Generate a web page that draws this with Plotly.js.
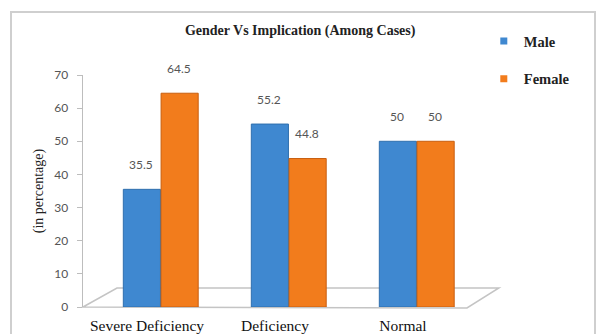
<!DOCTYPE html>
<html>
<head>
<meta charset="utf-8">
<script src="https://cdn.plot.ly/plotly-3.0.1.min.js"></script>
<style>
  html, body { margin: 0; padding: 0; background: #ffffff; }
  #wrap { position: relative; width: 604px; height: 334px; overflow: hidden; }
  #frame { position: absolute; left: 10px; top: 11px; width: 586px; height: 340px; border: 2px solid #cfcfcf; box-sizing: border-box; }
  #chart { position: absolute; left: 0; top: 0; width: 604px; height: 334px; }
</style>
</head>
<body>
<div id="wrap">
  <div id="frame"></div>
  <div id="chart"></div>
</div>
<script>
const categories = ["Severe Deficiency", "Deficiency", "Normal"];
const maleValues = [35.5, 55.2, 50];
const femaleValues = [64.5, 44.8, 50];
const maleLabels = ["35.5", "55.2", "50"];
const femaleLabels = ["64.5", "44.8", "50"];
const yTicks = [0, 10, 20, 30, 40, 50, 60, 70];

const serif = "Liberation Serif, Times New Roman, serif";
const sans = "Lato, Liberation Sans, sans-serif";
const maleColor = "#3f88d0";
const femaleColor = "#f27c1c";

const male = {
  type: "bar", name: "Male", x: categories, y: maleValues,
  offset: -0.185, width: 0.29,
  marker: { color: maleColor, line: { color: "#2f6fae", width: 1 } },
  showlegend: false, hoverinfo: "skip"
};
const female = {
  type: "bar", name: "Female", x: categories, y: femaleValues,
  offset: 0.11, width: 0.29,
  marker: { color: femaleColor, line: { color: "#c95f10", width: 1 } },
  showlegend: false, hoverinfo: "skip"
};
const maleKey = {
  type: "scatter", mode: "markers", name: "<b>Male</b>", x: [null], y: [null],
  marker: { symbol: "square", size: 7, color: maleColor }, legendgroup: "m", hoverinfo: "skip"
};
const femaleKey = {
  type: "scatter", mode: "markers", name: "<b>Female</b>", x: [null], y: [null],
  marker: { symbol: "square", size: 7, color: femaleColor }, legendgroup: "f", hoverinfo: "skip"
};

const annotations = [];
categories.forEach((c, i) => {
  annotations.push({ x: c, y: maleValues[i], xref: "x", yref: "y", text: maleLabels[i],
    showarrow: false, xshift: -6, yshift: 25, font: { family: sans, size: 12, color: "#555555" } });
  annotations.push({ x: c, y: femaleValues[i], xref: "x", yref: "y", text: femaleLabels[i],
    showarrow: false, xshift: 32, yshift: 25, font: { family: sans, size: 12, color: "#555555" } });
});

const layout = {
  width: 604, height: 334,
  margin: { l: 83, r: 137, t: 75, b: 27, pad: 0 },
  paper_bgcolor: "rgba(0,0,0,0)", plot_bgcolor: "rgba(0,0,0,0)",
  title: { text: "<b>Gender Vs Implication (Among Cases)</b>", xref: "container", yref: "container",
    x: 0.497, y: 0.91, xanchor: "center", yanchor: "middle",
    font: { family: serif, size: 14, color: "#222222" } },
  xaxis: {
    type: "category", range: [-0.5, 2.5], showline: false, showgrid: false, zeroline: false,
    ticks: "", ticklabelstandoff: 7, tickfont: { family: serif, size: 15.5, color: "#111111" }, fixedrange: true
  },
  yaxis: {
    range: [0, 70], tickvals: yTicks, showgrid: false, zeroline: false,
    showline: true, linecolor: "#bdbdbd", linewidth: 1.5,
    ticks: "outside", ticklen: 5, tickcolor: "#bdbdbd", ticklabelstandoff: 6,
    tickfont: { family: sans, size: 12, color: "#555555" },
    title: { text: "(in percentage)", standoff: 7, font: { family: serif, size: 14, color: "#222222" } },
    fixedrange: true
  },
  showlegend: true,
  legend: { xref: "container", yref: "container", x: 0.801, y: 0.925, xanchor: "left", yanchor: "top",
    traceorder: "grouped", tracegroupgap: 16, itemwidth: 30,
    font: { family: serif, size: 14.5, color: "#222222" }, bgcolor: "rgba(0,0,0,0)" },
  bargap: 0,
  shapes: [
    { type: "path", xref: "paper", yref: "paper", layer: "below",
      path: "M 0 0 L 0.0885 0.082 L 1.083 0.082 L 1.0 -0.004 Z",
      line: { color: "#c4c4c4", width: 1.5 }, fillcolor: "rgba(255,255,255,0)" }
  ],
  annotations: annotations
};

Plotly.newPlot("chart", [male, female, maleKey, femaleKey], layout, { displayModeBar: false, staticPlot: true });
</script>
</body>
</html>
